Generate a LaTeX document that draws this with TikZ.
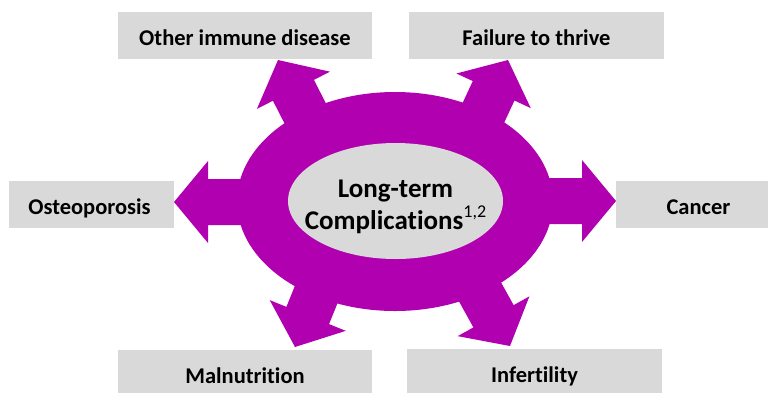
\documentclass[tikz,border=0pt]{standalone}
\usepackage{fontspec}
\setmainfont{Carlito}[Ligatures={NoCommon}]
\definecolor{purp}{HTML}{B000B0}
\definecolor{boxgrey}{HTML}{D9D9D9}
\begin{document}
\begin{tikzpicture}[x=1pt,y=-1pt,
  bigarrow/.style={fill=purp, draw=none},
  lbl/.style={font=\bfseries\fontsize{22.5}{26}\selectfont, text=black, inner sep=0pt, anchor=base}]
\useasboundingbox (0,0) rectangle (768,392);
\clip (0,0) rectangle (768,392);
% outer purple ring
\fill[purp] (395,201.5) ellipse [x radius=158pt, y radius=109.5pt];
% block arrows
\foreach \tx/\ty/\a in {174/202/180, 616/201/0, 278/60/117, 508/60/65, 295/347/248, 510/346/299} {
  \fill[bigarrow, shift={(\tx,\ty)}, rotate=\a] (0,0) -- (-34,41) -- (-34,23) -- (-150,23) -- (-150,-23) -- (-34,-23) -- (-34,-41) -- cycle;
}
% inner ellipse
\fill[boxgrey] (395.5,201) ellipse [x radius=107.5pt, y radius=58pt];
\node[align=center, inner sep=0pt, anchor=base, font=\bfseries\fontsize{27}{32}\selectfont] (hub) at (395.5,229) {Long-term\\Complications\raisebox{0.42em}{\mdseries\fontsize{18}{18}\selectfont 1,2}};
% boxes
\fill[boxgrey] (118,12) rectangle (372,59);
\fill[boxgrey] (409,12) rectangle (664,59);
\fill[boxgrey] (9,181) rectangle (174,228);
\fill[boxgrey] (616,181) rectangle (781,228);
\fill[boxgrey] (118,350) rectangle (372,397);
\fill[boxgrey] (407,349) rectangle (662,396);
\node[lbl] (oid) at (245,45) {Other immune disease};
\node[lbl] (ftt) at (536.5,45) {Failure to thrive};
\node[lbl] (ost) at (89.5,214) {Osteoporosis};
\node[lbl] (can) at (698.5,214) {Cancer};
\node[lbl] (mal) at (245,383) {Malnutrition};
\node[lbl] (inf) at (534.5,382) {Infertility};
\end{tikzpicture}
\end{document}
